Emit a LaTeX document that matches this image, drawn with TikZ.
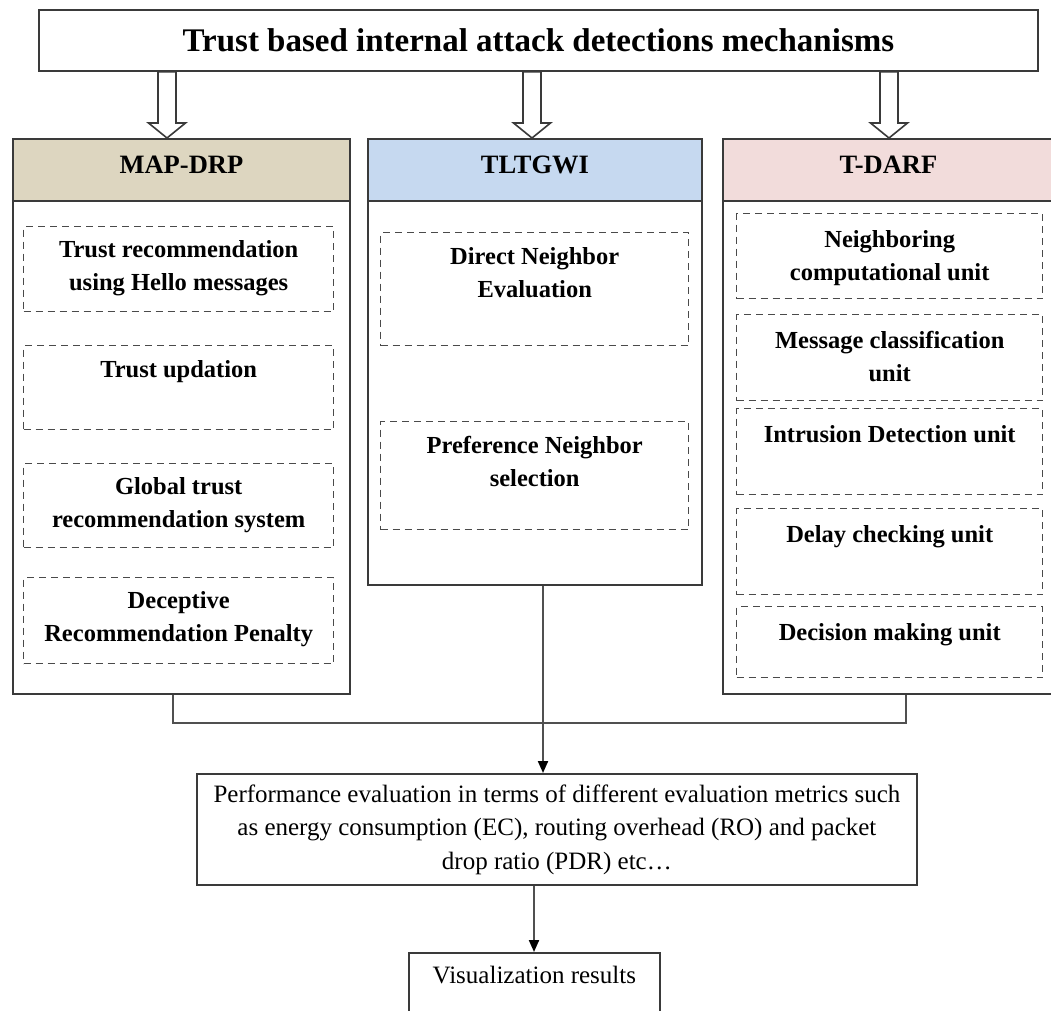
\documentclass[tikz,border=0pt]{standalone}
\usepackage{fontspec}
\setmainfont{Liberation Serif}
\usetikzlibrary{arrows.meta,calc}
\definecolor{mapc}{HTML}{DDD6C0}
\definecolor{tlc}{HTML}{C6D9F0}
\definecolor{tdc}{HTML}{F2DCDB}
\definecolor{edgec}{HTML}{3A3A3A}
\definecolor{dashc}{HTML}{4A4A4A}
\definecolor{linec}{HTML}{505050}
\newcommand{\firstline}[1]{\rule{0pt}{#1pt}}
\newcommand{\hollowarrow}[2]{%
  \draw[blockarr] let \p1=(#1), \p2=(#2) in
    (\x1-9pt,\y1) -- (\x1+9pt,\y1) -- (\x1+9pt,\y2+15pt) -- (\x1+18.5pt,\y2+15pt)
    -- (\x1,\y2) -- (\x1-18.5pt,\y2+15pt) -- (\x1-9pt,\y2+15pt) -- cycle;}
\begin{document}
\begin{tikzpicture}[x=1pt,y=-1pt,
  box/.style={draw=edgec, line width=1.8pt, rectangle, inner sep=0pt, anchor=north west},
  head/.style={box, minimum height=62pt, text depth=10pt, font=\fontsize{26.5}{30}\selectfont\bfseries},
  dbox/.style={draw=dashc, line width=1.4pt, dash pattern=on 7pt off 5pt, rectangle, inner sep=0pt, anchor=north west},
  dtext/.style={anchor=north, inner sep=0pt, align=center, font=\fontsize{24.5}{33}\selectfont\bfseries},
  conn/.style={draw=linec, line width=2.1pt},
  tip/.style={draw=linec, line width=2pt, -{Triangle[length=12pt,width=10pt,color=black]}},
  blockarr/.style={draw=edgec, line width=1.6pt, fill=white, line join=miter}]
\useasboundingbox (0,0) rectangle (1051,1010);

% title
\node[box, minimum width=999pt, minimum height=61pt, font=\fontsize{33}{38}\selectfont\bfseries] (top) at (38,9) {Trust based internal attack detections mechanisms};

% MAP-DRP column
\node[box, minimum width=337pt, minimum height=493pt] (mbody) at (12,200) {};
\node[head, fill=mapc, minimum width=337pt] (mhead) at (12,138) {MAP-DRP};
\node[dbox, minimum width=310pt, minimum height=85pt] (m1) at (23,226) {};
\node[dbox, minimum width=310pt, minimum height=84pt] (m2) at (23,345) {};
\node[dbox, minimum width=310pt, minimum height=84pt] (m3) at (23,463) {};
\node[dbox, minimum width=310pt, minimum height=86pt] (m4) at (23,577) {};
\node[dtext] (m1t) at (m1.north) {\firstline{31}Trust recommendation\\using Hello messages};
\node[dtext] (m2t) at (m2.north) {\firstline{32}Trust updation};
\node[dtext] (m3t) at (m3.north) {\firstline{31}Global trust\\recommendation system};
\node[dtext] (m4t) at (m4.north) {\firstline{31}Deceptive\\Recommendation Penalty};

% TLTGWI column
\node[box, minimum width=334pt, minimum height=384pt] (tlbody) at (367,200) {};
\node[head, fill=tlc, minimum width=334pt] (tlhead) at (367,138) {TLTGWI};
\node[dbox, minimum width=308pt, minimum height=113pt] (t1) at (380,232) {};
\node[dbox, minimum width=308pt, minimum height=108pt] (t2) at (380,421) {};
\node[dtext] (t1t) at (t1.north) {\firstline{32}Direct Neighbor\\Evaluation};
\node[dtext] (t2t) at (t2.north) {\firstline{32}Preference Neighbor\\selection};

% T-DARF column
\node[box, minimum width=331pt, minimum height=493pt] (tdbody) at (722,200) {};
\node[head, fill=tdc, minimum width=331pt] (tdhead) at (722,138) {T-DARF};
\node[dbox, minimum width=306pt, minimum height=85pt] (d1) at (736,213) {};
\node[dbox, minimum width=306pt, minimum height=86pt] (d2) at (736,314) {};
\node[dbox, minimum width=306pt, minimum height=86pt] (d3) at (736,408) {};
\node[dbox, minimum width=306pt, minimum height=86pt] (d4) at (736,508) {};
\node[dbox, minimum width=306pt, minimum height=71pt] (d5) at (736,606) {};
\node[dtext] (d1t) at (d1.north) {\firstline{34}Neighboring\\computational unit};
\node[dtext] (d2t) at (d2.north) {\firstline{34}Message classification\\unit};
\node[dtext] (d3t) at (d3.north) {\firstline{34}Intrusion Detection unit};
\node[dtext] (d4t) at (d4.north) {\firstline{34}Delay checking unit};
\node[dtext] (d5t) at (d5.north) {\firstline{34}Decision making unit};

% performance and visualization
\node[box, minimum width=720pt, minimum height=111pt, align=center, font=\fontsize{25}{33.5}\selectfont] (perf) at (196,773) {Performance evaluation in terms of different evaluation metrics such\\as energy consumption (EC), routing overhead (RO) and packet\\drop ratio (PDR) etc…};
\node[box, minimum width=251pt, minimum height=70pt] (vis) at (408,952) {};
\node[anchor=north, inner sep=0pt, font=\fontsize{25}{30}\selectfont] (vist) at (vis.north) {\firstline{31}Visualization results};

% hollow block arrows
\coordinate (a1) at (167,0);
\coordinate (a2) at (532,0);
\coordinate (a3) at (889,0);
\hollowarrow{a1 |- top.south}{a1 |- mhead.north}
\hollowarrow{a2 |- top.south}{a2 |- tlhead.north}
\hollowarrow{a3 |- top.south}{a3 |- tdhead.north}

% connectors
\coordinate (c1) at (173,723);
\coordinate (c2) at (906,723);
\coordinate (c3) at (543,0);
\coordinate (c4) at (534,0);
\draw[conn] (c1 |- mbody.south) -- (c1) -- (c2) -- (c2 |- tdbody.south);
\draw[tip] (c3 |- tlbody.south) -- (c3 |- perf.north);
\draw[tip] (c4 |- perf.south) -- (c4 |- vis.north);
\end{tikzpicture}
\end{document}
